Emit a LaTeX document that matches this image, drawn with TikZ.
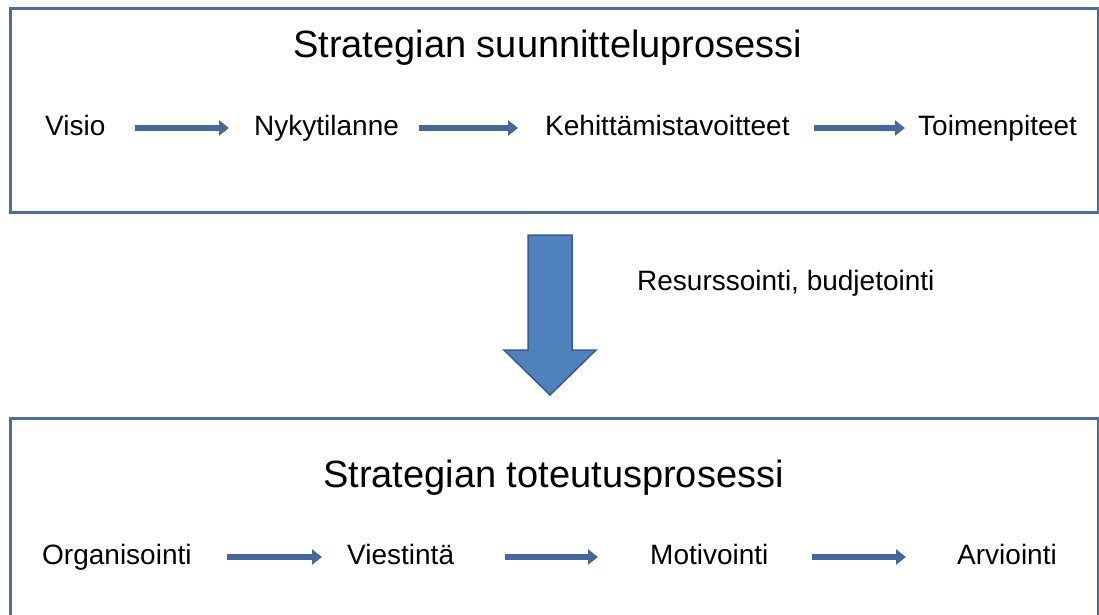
\documentclass[tikz,border=0pt]{standalone}
\usepackage{fontspec}
\setmainfont{Liberation Sans}
\usetikzlibrary{arrows.meta}
\definecolor{boxline}{RGB}{79,108,148}
\definecolor{arrcol}{RGB}{68,104,152}
\definecolor{bigfill}{HTML}{4F81BD}
\definecolor{bigline}{HTML}{385D8A}
\begin{document}
\begin{tikzpicture}[x=1pt,y=-1pt,
  lbl/.style={anchor=base west, inner sep=0pt, font=\fontsize{28}{34}\selectfont, text height=19pt, text depth=5pt},
  ttl/.style={anchor=base west, inner sep=0pt, font=\fontsize{38}{46}\selectfont},
  flow/.style={draw=arrcol, line width=6pt, -{Triangle[length=10pt,width=15pt]}},
  frame/.style={draw=boxline, line width=2.5pt, anchor=north west, inner sep=0pt}]
\useasboundingbox (0,0) rectangle (1099,614);
\clip (0,0) rectangle (1099,614);
\fill[white] (0,0) rectangle (1099,614);
% boxes
\node (topbox) [frame, minimum width=1088pt, minimum height=204pt] at (9,7) {};
\node (botbox) [frame, minimum width=1088pt, minimum height=230pt] at (9,417) {};
% titles
\node (t1) [ttl] at (293,57) {Strategian suunnitteluprosessi};
\node (t2) [ttl] at (323,487) {Strategian toteutusprosessi};
% top row
\node (visio) [lbl] at (45,135) {Visio};
\node (nyky) [lbl] at (254,135) {Nykytilanne};
\node (kehit) [lbl] at (545,135) {Kehittämistavoitteet};
\node (toim) [lbl] at (918,135) {Toimenpiteet};
\draw[flow, shorten <=29pt, shorten >=25pt] (visio.east) -- (nyky.west);
\draw[flow, shorten <=20pt, shorten >=27pt] (nyky.east) -- (kehit.west);
\draw[flow, shorten <=24pt, shorten >=13pt] (kehit.east) -- (toim.west);
% bottom row
\node (org) [lbl] at (42,564) {Organisointi};
\node (viest) [lbl] at (347,564) {Viestintä};
\node (motiv) [lbl] at (650,564) {Motivointi};
\node (arvi) [lbl] at (957,564) {Arviointi};
\draw[flow, shorten <=35pt, shorten >=25pt] (org.east) -- (viest.west);
\draw[flow, shorten <=51pt, shorten >=52pt] (viest.east) -- (motiv.west);
\draw[flow, shorten <=43pt, shorten >=51pt] (motiv.east) -- (arvi.west);
% big arrow
\draw[fill=bigfill, draw=bigline, line width=1.5pt, line join=miter]
  (528,235) -- (572,235) -- (572,350) -- (596,350) -- (550,395) -- (504,350) -- (528,350) -- cycle;
\node (res) [lbl] at (637,290) {Resurssointi, budjetointi};
\end{tikzpicture}
\end{document}
